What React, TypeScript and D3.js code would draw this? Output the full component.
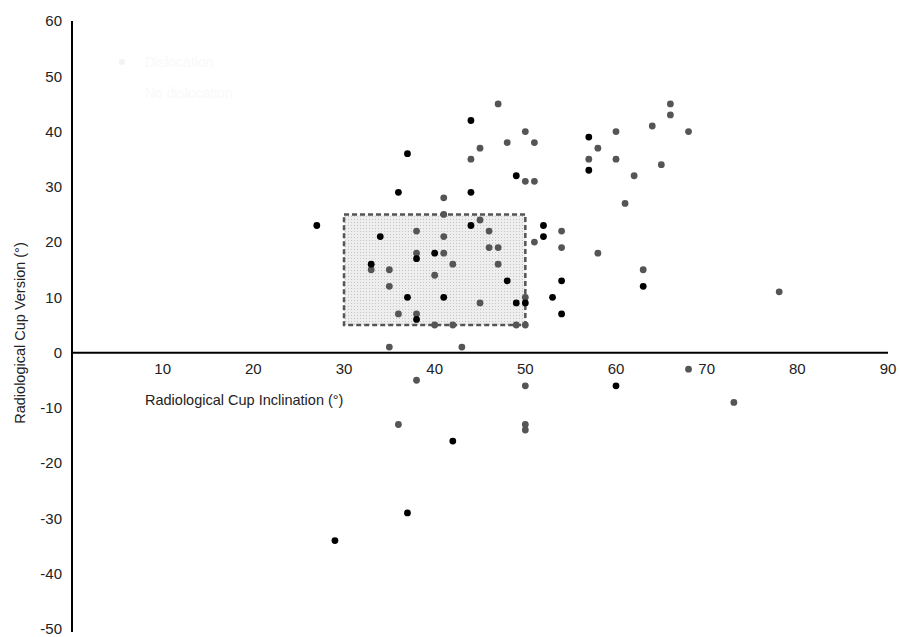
import React from 'react';
import * as d3 from 'd3';

// Radiological cup inclination (x) and version (y), degrees
const dislocatedX = [44, 37, 49, 36, 44, 27, 44, 52, 52, 34, 40, 38, 33, 48, 37, 41, 49, 50, 53, 38, 57, 57, 54, 63, 54, 60, 42, 37, 29];
const dislocatedY = [42, 36, 32, 29, 29, 23, 23, 23, 21, 21, 18, 17, 16, 13, 10, 10, 9, 9, 10, 6, 39, 33, 13, 12, 7, -6, -16, -29, -34];

const stableX = [47, 50, 48, 51, 45, 44, 50, 51, 41, 41, 45, 46, 51, 38, 41, 38, 41, 46, 47, 42, 47, 33, 35, 40, 35, 45, 50, 36, 38, 40, 42, 49, 50, 35, 43, 54, 54,
  66, 66, 64, 68, 60, 58, 57, 60, 65, 62, 61, 58, 63, 78, 38, 50, 68, 73, 36, 50, 50];
const stableY = [45, 40, 38, 38, 37, 35, 31, 31, 28, 25, 24, 22, 20, 22, 21, 18, 18, 19, 19, 16, 16, 15, 15, 14, 12, 9, 10, 7, 7, 5, 5, 5, 5, 1, 1, 22, 19,
  45, 43, 41, 40, 40, 37, 35, 35, 34, 32, 27, 18, 15, 11, -5, -6, -3, -9, -13, -13, -14];

// safe zone (Lewinnek): inclination 30-50, version 5-25
const safeInclination = [30, 50];
const safeVersion = [5, 25];

const xTicks = [10, 20, 30, 40, 50, 60, 70, 80, 90];
const yTicks = [60, 50, 40, 30, 20, 10, 0, -10, -20, -30, -40, -50];

const legendLabels = ['Dislocation', 'No dislocation'];

export default function App() {
  const width = 900;
  const height = 637;
  const font = '"Liberation Sans", Arial, sans-serif';

  const x = d3.scaleLinear().domain([0, 90]).range([72, 888]);
  const y = d3.scaleLinear().domain([-50, 60]).range([629, 21]);

  const stable = stableX.map((v, i) => [v, stableY[i]]);
  const dislocated = dislocatedX.map((v, i) => [v, dislocatedY[i]]);

  return (
    <svg width={width} height={height} style={{ position: 'absolute', left: 0, top: 0, background: '#fff' }} fontFamily={font}>
      <defs>
        <pattern id="stipple" width="3" height="3" patternUnits="userSpaceOnUse">
          <rect width="3" height="3" fill="#eeeeee" />
          <rect width="1" height="1" fill="#c4c4c4" />
        </pattern>
      </defs>

      {/* legend is almost white in the original */}
      <g>
        <circle cx={122} cy={62} r={3} fill="#f2f2f2" />
        <text x={145} y={67} fontSize={14} fill="#f9f9f9">{legendLabels[0]}</text>
        <text x={145} y={98} fontSize={14} fill="#f9f9f9">{legendLabels[1]}</text>
      </g>

      {/* safe zone box */}
      <rect
        x={x(safeInclination[0])}
        y={y(safeVersion[1])}
        width={x(safeInclination[1]) - x(safeInclination[0])}
        height={y(safeVersion[0]) - y(safeVersion[1])}
        fill="url(#stipple)"
        stroke="#555"
        strokeWidth={2.5}
        strokeDasharray="5,3"
      />

      {/* axes */}
      <line x1={x(0)} x2={x(0)} y1={y(60)} y2={632} stroke="#000" strokeWidth={2} />
      <line x1={x(0)} x2={x(90)} y1={y(0)} y2={y(0)} stroke="#000" strokeWidth={2} />

      {yTicks.map(t => (
        <text key={'y' + t} x={62} y={y(t)} dy="0.35em" textAnchor="end" fontSize={15} fill="#222">{t}</text>
      ))}
      {xTicks.map(t => (
        <text key={'x' + t} x={x(t)} y={y(0) + 21} textAnchor="middle" fontSize={15} fill="#222">{t}</text>
      ))}

      <text x={145} y={405} fontSize={14.5} fill="#222">Radiological Cup Inclination (°)</text>
      <text transform={`translate(25, ${(233 + 433) / 2}) rotate(-90)`} textAnchor="middle" fontSize={14.5} fill="#222">
        Radiological Cup Version (°)
      </text>

      {/* points */}
      {stable.map((d, i) => (
        <circle key={'s' + i} cx={x(d[0])} cy={y(d[1])} r={3.4} fill="#555" />
      ))}
      {dislocated.map((d, i) => (
        <circle key={'d' + i} cx={x(d[0])} cy={y(d[1])} r={3.4} fill="#000" />
      ))}
    </svg>
  );
}
